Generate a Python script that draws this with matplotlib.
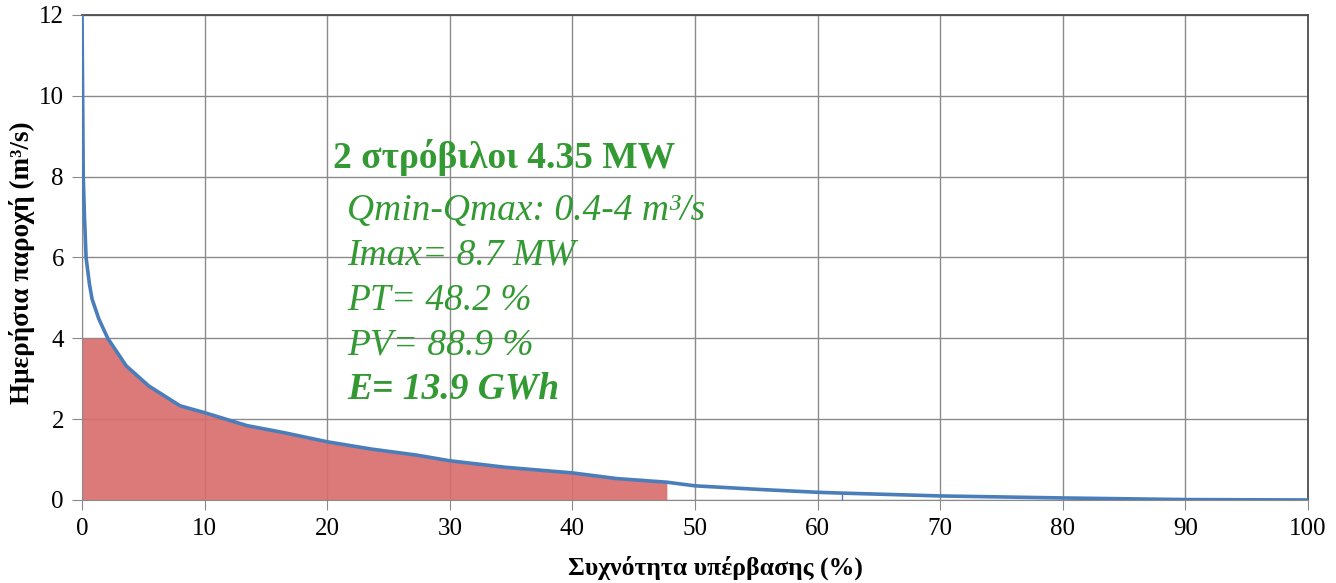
import numpy as np
import matplotlib
matplotlib.use("Agg")
import matplotlib.pyplot as plt

# flow duration curve
exceed_pct = [0, 0.05, 0.1, 0.2, 0.33, 0.6, 0.82, 1.37, 2.1, 3.6, 5.45, 8.0, 10, 13.45,
              16.4, 20, 23.6, 27.3, 30, 34.5, 40, 43.6, 47.7, 50, 55.3, 60, 62, 70, 80, 90, 100]
flow_q = [12, 10, 8, 7, 6, 5.35, 4.97, 4.48, 4.0, 3.32, 2.82, 2.33, 2.16, 1.84,
          1.67, 1.44, 1.26, 1.11, 0.97, 0.81, 0.67, 0.53, 0.44, 0.35, 0.26, 0.19, 0.17, 0.1, 0.05, 0.01, 0.0]
q_max = 4.0
pt_limit = 48.2
tick_mark_x = 62

title_line = "2 στρόβιλοι 4.35 MW"
info_lines = ["Qmin-Qmax: 0.4-4 m³/s", "Imax= 8.7 MW", "PT= 48.2 %", "PV= 88.9 %"]
energy_line = "E= 13.9 GWh"

plt.rcParams['font.family'] = ['Liberation Serif', 'DejaVu Serif']

def main():
    x = np.array(exceed_pct)
    q = np.array(flow_q)

    fig = plt.figure(figsize=(13.36, 5.83), dpi=100)
    ax = fig.add_axes([0.0614, 0.1424, 0.9177, 0.8319])

    ax.fill_between(x, 0, np.minimum(q, q_max), where=x <= pt_limit,
                    color='#d96b6b', alpha=0.9, linewidth=0, zorder=2)
    ax.plot(x, q, color='#4a7ebb', lw=2.6, zorder=3)
    ax.vlines(tick_mark_x, 0, np.interp(tick_mark_x, x, q), color='#4a7ebb', lw=1, zorder=3)

    ax.set_xlim(0, 100)
    ax.set_ylim(0, 12)
    ax.set_xticks(range(0, 101, 10))
    ax.set_yticks(range(0, 13, 2))
    ax.grid(True, color='#8a8a8a', lw=1, zorder=1)
    ax.set_axisbelow(True)
    ax.tick_params(labelsize=18, length=7, color='#8a8a8a', pad=6)
    for s in ['top', 'right']:
        ax.spines[s].set_color('#4d4d4d')
        ax.spines[s].set_linewidth(1.3)
    for s in ['left', 'bottom']:
        ax.spines[s].set_color('#8a8a8a')

    ax.set_xlabel("Συχνότητα υπέρβασης (%)", fontsize=18.5, fontweight='bold')
    ax.set_ylabel("Ημερήσια παροχή (m³/s)", fontsize=19.5, fontweight='bold')
    ax.xaxis.set_label_coords(0.517, -0.115)
    ax.yaxis.set_label_coords(-0.0385, 0.49)

    green = '#339933'
    ax.text(20.5, 8.22, title_line, color=green, fontsize=27, fontweight='bold', va='baseline')
    ys = [6.93, 5.82, 4.70, 3.61]
    for line, yy in zip(info_lines, ys):
        ax.text(21.6, yy, line, color=green, fontsize=27, style='italic', va='baseline')
    ax.text(21.6, 2.52, energy_line, color=green, fontsize=27, style='italic',
            fontweight='bold', va='baseline')

    fig.savefig("out.png", dpi=100)


if __name__ == "__main__":
    main()
